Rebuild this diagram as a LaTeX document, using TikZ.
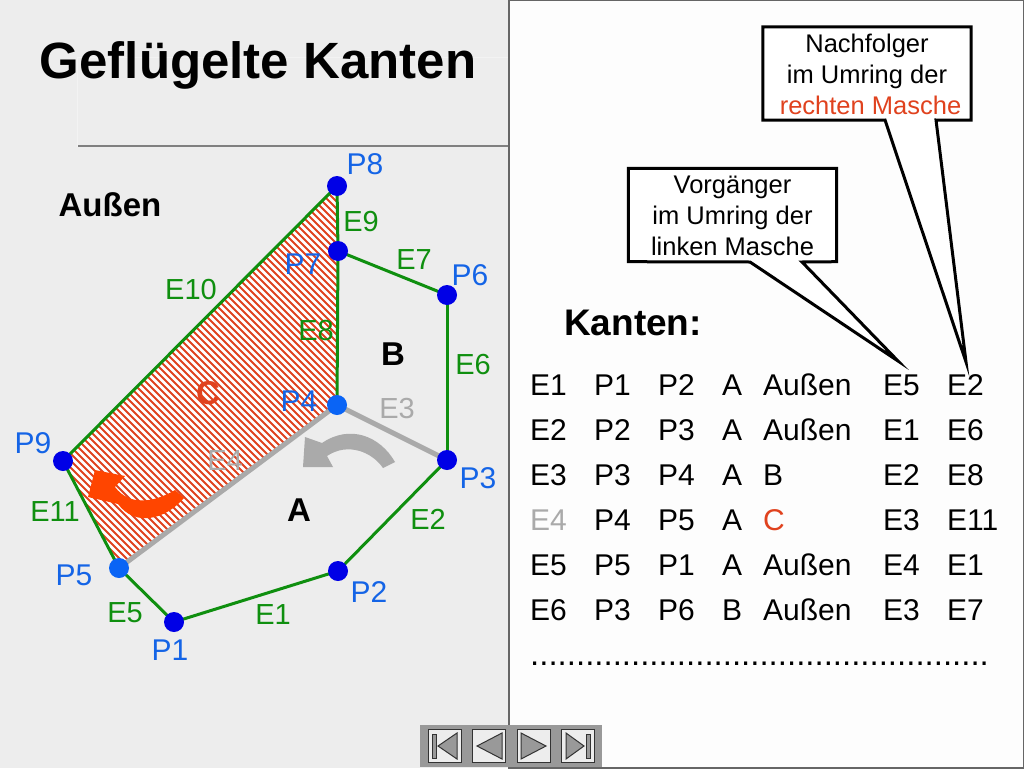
\documentclass[tikz,border=0pt]{standalone}
\usepackage{fontspec}
\setmainfont{Liberation Sans}
\definecolor{bggray}{HTML}{EDEDED}
\definecolor{panelwhite}{HTML}{FDFDFD}
\definecolor{edgegreen}{HTML}{0F8F0F}
\definecolor{edgegray}{HTML}{AAAAAA}
\definecolor{ptblue}{HTML}{0000E6}
\definecolor{ptlight}{HTML}{0A64F5}
\definecolor{textblue}{HTML}{1464E6}
\definecolor{hatchred}{HTML}{E0421E}
\definecolor{arroworange}{HTML}{FF4500}
\newcommand{\fs}[1]{\fontsize{#1}{#1}\selectfont}
\tikzset{
  pt/.style={circle,fill=ptblue,inner sep=0pt,minimum size=20pt},
  ptl/.style={pt,fill=ptlight},
  ptext/.style={text=textblue,font=\fs{30},inner sep=0pt},
  etext/.style={text=edgegreen,font=\fs{29},inner sep=0pt},
  gtext/.style={text=edgegray,font=\fs{29},inner sep=0pt},
  btext/.style={font=\fs{33}\bfseries,inner sep=0pt},
  cell/.style={font=\fs{30},anchor=base west,inner sep=0pt},
  callout/.style={font=\fontsize{25.5}{31}\selectfont,align=center,inner sep=0pt,minimum width=208pt,minimum height=93pt},
  edge/.style={draw=edgegreen,line width=3pt},
  grayedge/.style={draw=edgegray,line width=5pt},
  balloon/.style={draw=black,fill=white,line width=3pt,miter limit=20},
  navbtn/.style={draw=black!80,fill=bggray,line width=1pt},
  navtri/.style={draw=black!80,fill=black!40,line width=1pt}
}
\begin{document}
\begin{tikzpicture}[x=1pt,y=-1pt]
  \useasboundingbox (0,0) rectangle (1024,768);
  \fill[bggray] (0,0) rectangle (1024,768);
  % title area
  \draw[white!30!bggray,line width=.7pt] (77,147) -- (77,57) -- (509,57);
  \draw[black!50,line width=2pt] (78,146) -- (509,146);
  \node (title) [font=\fs{51}\bfseries,inner sep=0pt] at (258,65) {Geflügelte Kanten};
  \filldraw[fill=panelwhite,draw=black!60,line width=2pt] (509,0.5) rectangle (1023.5,767.5);

  \coordinate (p1) at (174,622);
  \coordinate (p2) at (338,571);
  \coordinate (p3) at (447,460);
  \coordinate (p4) at (337,405);
  \coordinate (p5) at (119,568);
  \coordinate (p6) at (447,295);
  \coordinate (p7) at (338,251);
  \coordinate (p8) at (337,186);
  \coordinate (p9) at (63,461);

  % hatched mesh
  \fill[white] (p9) -- (p8) -- (p7) -- (p4) -- (p5) -- cycle;
  \begin{scope}
    \clip (p9) -- (p8) -- (p7) -- (p4) -- (p5) -- cycle;
    \foreach \k in {0,...,88}
      \draw[hatchred,line width=1.9pt] ({-460+\k*7},0) -- ({240+\k*7},700);
  \end{scope}

  \foreach \from/\to in {p1/p2,p2/p3,p3/p6,p6/p7,p7/p8,p7/p4,p8/p9,p9/p5,p5/p1}
    \draw [edge] (\from) -- (\to);
  \foreach \from/\to in {p3/p4,p4/p5}
    \draw [grayedge] (\from) -- (\to);

  % turning arrows
  \fill[edgegray] (395,462) .. controls (380,436) and (350,424) .. (322,443) -- (305,437) -- (303,467) -- (333,467) -- (327,456) .. controls (348,442) and (372,452) .. (383,468) -- cycle;
  \fill[arroworange] (184,498) .. controls (165,520) and (135,527) .. (118,504) -- (88,497) -- (95,470) -- (125,476) -- (115,487) .. controls (130,507) and (155,502) .. (175,490) -- cycle;

  \foreach \n in {p1,p2,p3,p6,p7,p8,p9}
    \node (n\n) [pt] at (\n) {};
  \foreach \n in {p4,p5}
    \node (n\n) [ptl] at (\n) {};

  \foreach \n/\x/\y/\t in {l1/170/650/P1,l2/369/592/P2,l3/478/478/P3,l4/299/401/P4,l5/74/575/P5,l6/470/275/P6,l7/303/264/P7,l8/365/164/P8,l9/33/443/P9}
    \node (\n) [ptext] at (\x,\y) {\t};
  \foreach \n/\x/\y/\t in {e1/273/615/E1,e2/428/519/E2,e5/125/613/E5,e6/473/365/E6,e7/414/260/E7,e8/316/331/E8,e9/361/222/E9,e10/191/290/E10,e11/55/512/E11}
    \node (\n) [etext] at (\x,\y) {\t};
  \node (e3) [gtext] at (397,409) {E3};
  \node (e4) [gtext] at (225,461) {E4};

  \node (outer) [btext] at (110,205) {Außen};
  \node (maschea) [btext] at (299,510) {A};
  \node (mascheb) [btext] at (393,354) {B};
  \node (maschec) [btext,text=hatchred] at (208,393) {C};

  % callouts
  \node (nach) [callout] at (867,73.5) {};
  \draw [balloon] (nach.north west) -- (nach.north east) -- (nach.south east) -- (936,120) -- (966,362) -- (885,120) -- (nach.south west) -- cycle;
  \node (nachtext) [callout] at (867,74.5) {Nachfolger\\im Umring der\\\hspace*{7pt}\textcolor{hatchred}{rechten Masche}};
  \node (vor) [callout] at (732.5,215) {};
  \draw [balloon] (vor.north west) -- (vor.north east) -- (vor.south east) -- (802,262) -- (898,361) -- (750,262) -- (vor.south west) -- cycle;
  \node (vortext) [callout] at (732.5,216) {Vorgänger\\im Umring der\\linken Masche};

  \node (kanten) [font=\fs{37}\bfseries,inner sep=0pt] at (633,323) {Kanten:};

  % table of edges
  \foreach \i/\y/\ca/\cb/\cc/\cd/\ce/\cf/\cg in {
      1/395/E1/P1/P2/A/Außen/E5/E2,
      2/440/E2/P2/P3/A/Außen/E1/E6,
      3/485/E3/P3/P4/A/B/E2/E8,
      4/530/{\textcolor{edgegray}{E4}}/P4/P5/A/{\textcolor{hatchred}{C}}/E3/E11,
      5/575/E5/P5/P1/A/Außen/E4/E1,
      6/620/E6/P3/P6/B/Außen/E3/E7}{
    \node (t\i a) [cell] at (530,\y) {\ca};
    \node (t\i b) [cell] at (594,\y) {\cb};
    \node (t\i c) [cell] at (658,\y) {\cc};
    \node (t\i d) [cell] at (722,\y) {\cd};
    \node (t\i e) [cell] at (763,\y) {\ce};
    \node (t\i f) [cell] at (883,\y) {\cf};
    \node (t\i g) [cell] at (947,\y) {\cg};
  }
  \node (dots) [cell,font=\fs{33}] at (530,665.5) {..................................................};

  % navigation bar
  \fill[black!40] (420,725) rectangle (602,767);
  \foreach \x in {428,472,517,561}
    \draw [navbtn] (\x,729) rectangle (\x+33,762);
  \draw [navtri] (432,734) rectangle (436,758);
  \draw [navtri] (438,746) -- (457,733) -- (457,759) -- cycle;
  \draw [navtri] (477,746) -- (502,733) -- (502,759) -- cycle;
  \draw [navtri] (521,733) -- (546,746) -- (521,759) -- cycle;
  \draw [navtri] (566,733) -- (584,746) -- (566,759) -- cycle;
  \draw [navtri] (586,734) rectangle (590,758);
\end{tikzpicture}
\end{document}
